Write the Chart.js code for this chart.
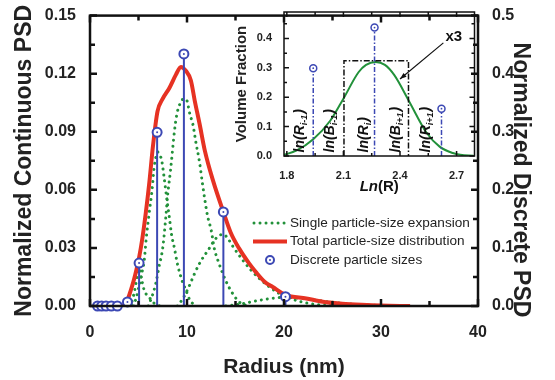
<!DOCTYPE html>
<html>
<head>
<meta charset="utf-8">
<script src="https://cdn.jsdelivr.net/npm/chart.js@4.4.0/dist/chart.umd.min.js"></script>
<style>
  html, body { margin: 0; padding: 0; background: #fff; }
  #wrap { position: relative; width: 555px; height: 380px; }
  #main { position: absolute; left: 0; top: 0; }
  #inset { position: absolute; left: 230px; top: 0; }
</style>
</head>
<body>
<div id="wrap">
  <canvas id="main" width="555" height="380"></canvas>
  <canvas id="inset" width="250" height="200"></canvas>
</div>
<script>
// main plot data
const xTicks = [0, 10, 20, 30, 40];
const leftTicks = [0, 0.03, 0.06, 0.09, 0.12, 0.15];
const rightTicks = [0, 0.1, 0.2, 0.3, 0.4, 0.5];

const discreteRadius = [0.78, 1.2, 1.65, 2.2, 2.82, 3.86, 5.06, 6.92, 9.68, 13.75, 20.15];
const discretePsd = [0, 0, 0, 0, 0, 0.007, 0.074, 0.299, 0.434, 0.162, 0.016];

const totalRadius = [3.4, 3.7, 3.86, 4.2, 4.5, 4.8, 5.06, 5.4, 5.75, 6.1, 6.5, 6.96, 7.47, 8.17, 8.86, 9.37, 9.88, 10.4, 10.8, 11.3, 11.85, 12.7, 13.75, 14.5, 15.4, 16.4, 17.1, 18.0, 18.84, 20.15, 22.3, 24, 26, 28, 30, 33];
const totalPsd = [0, 0.0015, 0.003, 0.008, 0.013, 0.019, 0.025, 0.035, 0.048, 0.063, 0.083, 0.1005, 0.1068, 0.1125, 0.1195, 0.1235, 0.1215, 0.1165, 0.106, 0.094, 0.08, 0.0645, 0.0486, 0.038, 0.0295, 0.022, 0.0175, 0.0125, 0.0098, 0.0058, 0.0039, 0.0022, 0.0012, 0.0006, 0.0002, 0];

// one expansion per discrete size (3.86 ... 20.15)
const expansionRadius = [
  [3.2, 3.5, 3.86, 4.2, 4.6],
  [4.0, 4.3, 4.6, 4.85, 5.06, 5.2, 5.4, 5.6, 6.1, 6.6, 7.2],
  [4.5, 4.75, 5.0, 5.3, 5.6, 5.8, 6.1, 6.4, 6.6, 6.8, 7.0, 7.2, 7.4, 7.65, 7.9, 8.2, 8.4, 8.7, 9.0, 9.5, 9.9, 10.3, 11],
  [6.0, 6.4, 6.8, 7.1, 7.5, 7.8, 8.0, 8.3, 8.5, 8.7, 8.95, 9.2, 9.5, 9.8, 10.0, 10.3, 10.6, 10.9, 11.3, 11.6, 12.1, 12.5, 12.8, 13.3, 14.0, 14.7, 15.4, 16.2],
  [9.0, 9.6, 10.2, 10.8, 11.4, 12.2, 12.7, 13.2, 13.75, 14.2, 14.7, 15.7, 16.6, 17.5, 18.5, 19.5, 20.6, 21.9, 23.5, 25.5],
  [14, 15.5, 17, 18.5, 20.15, 22, 24, 26, 28, 30, 33]
];
const expansionPsd = [
  [0, 0.001, 0.002, 0.001, 0],
  [0, 0.002, 0.008, 0.015, 0.021, 0.017, 0.012, 0.008, 0.0045, 0.0015, 0],
  [0, 0.004, 0.009, 0.016, 0.024, 0.035, 0.048, 0.06, 0.071, 0.077, 0.0795, 0.078, 0.075, 0.066, 0.056, 0.045, 0.037, 0.03, 0.022, 0.013, 0.008, 0.003, 0],
  [0, 0.005, 0.012, 0.02, 0.03, 0.045, 0.057, 0.07, 0.08, 0.09, 0.099, 0.1035, 0.1065, 0.107, 0.106, 0.099, 0.094, 0.085, 0.074, 0.063, 0.047, 0.039, 0.03, 0.022, 0.013, 0.0065, 0.002, 0],
  [0, 0.004, 0.01, 0.017, 0.023, 0.029, 0.033, 0.036, 0.037, 0.035, 0.031, 0.024, 0.0185, 0.014, 0.0098, 0.0065, 0.004, 0.002, 0.0007, 0],
  [0, 0.001, 0.0025, 0.0038, 0.0045, 0.0038, 0.0025, 0.0014, 0.0007, 0.0003, 0]
];

// inset data
const insetXTicks = [1.8, 2.1, 2.4, 2.7];
const insetYTicks = [0, 0.1, 0.2, 0.3, 0.4];
const lnR = [1.785, 1.85, 1.94, 2.03, 2.1, 2.18, 2.22, 2.27, 2.32, 2.37, 2.45, 2.54, 2.61, 2.68, 2.72, 2.79];
const volumeFraction = [0.004, 0.018, 0.057, 0.12, 0.195, 0.285, 0.31, 0.32, 0.31, 0.275, 0.184, 0.08, 0.032, 0.01, 0.004, 0.001];
const lnDiscrete = [1.94, 2.265, 2.62];
const fracDiscrete = [0.299, 0.437, 0.161];
const binEdges = [2.103, 2.445];
const binHeight = 0.324;
const binLabelLn = [1.87, 2.03, 2.21, 2.38, 2.54];
const binLabelMain = ['ln(R', 'ln(B', 'ln(R', 'ln(B', 'ln(R'];
const binLabelSub = ['i-1', 'i-1', 'i', 'i+1', 'i+1'];
const scaleNote = { text: 'x3', ln: 2.685, frac: 0.405 };
const arrowFrom = [2.63, 0.385];
const arrowTo = [2.4, 0.262];

const FONT = "'Liberation Sans', Arial, sans-serif";
const GREEN = '#22913a';
const RED = '#e63223';
const BLUE = '#3c48b4';
Chart.defaults.font.family = FONT;
Chart.defaults.color = '#222';

const minorOf = (scale) => {
    const vals = scale.ticks.map(t => t.value);
    const step = vals[1] - vals[0];
    const out = [];
    for (let v = vals[0] - step / 2; v <= scale.max + 1e-9; v += step) {
        if (v >= scale.min - 1e-9) out.push(v);
    }
    return out;
};

// box round the plot with inward tick marks on all sides
const frame = {
    id: 'frame',
    afterDatasetsDraw(chart, args, o) {
        const { ctx, chartArea: a, scales } = chart;
        const marks = (scale) => scale.ticks.map(t => [scale.getPixelForValue(t.value), o.major])
            .concat(minorOf(scale).map(v => [scale.getPixelForValue(v), o.minor]));
        ctx.save();
        ctx.strokeStyle = '#111';
        ctx.lineWidth = o.width;
        ctx.beginPath();
        marks(scales.x).forEach(([p, len]) => {
            ctx.moveTo(p, a.bottom); ctx.lineTo(p, a.bottom - len);
            ctx.moveTo(p, a.top); ctx.lineTo(p, a.top + len);
        });
        marks(scales.y).forEach(([p, len]) => {
            ctx.moveTo(a.left, p); ctx.lineTo(a.left + len, p);
            if (!scales.y2) { ctx.moveTo(a.right, p); ctx.lineTo(a.right - len, p); }
        });
        if (scales.y2) {
            marks(scales.y2).forEach(([p, len]) => { ctx.moveTo(a.right, p); ctx.lineTo(a.right - len, p); });
        }
        ctx.stroke();
        ctx.strokeRect(a.left, a.top, a.right - a.left, a.bottom - a.top);
        ctx.restore();
    }
};

// legend inside the plot and the right-hand axis title
const legendBox = {
    id: 'legendBox',
    afterDraw(chart) {
        const ctx = chart.ctx;
        const x0 = 253, x1 = 287, tx = 290;
        const rows = [223, 241.5, 260];
        ctx.save();
        ctx.lineCap = 'round';
        ctx.strokeStyle = GREEN; ctx.lineWidth = 3; ctx.setLineDash([0.01, 6]);
        ctx.beginPath(); ctx.moveTo(x0 + 1, rows[0]); ctx.lineTo(x1, rows[0]); ctx.stroke();
        ctx.setLineDash([]); ctx.lineCap = 'butt';
        ctx.strokeStyle = RED; ctx.lineWidth = 4;
        ctx.beginPath(); ctx.moveTo(x0, rows[1]); ctx.lineTo(x1, rows[1]); ctx.stroke();
        ctx.strokeStyle = BLUE; ctx.lineWidth = 2; ctx.fillStyle = '#fff';
        ctx.beginPath(); ctx.arc(270, rows[2], 4, 0, Math.PI * 2); ctx.fill(); ctx.stroke();
        ctx.fillStyle = BLUE;
        ctx.beginPath(); ctx.arc(270, rows[2], 1, 0, Math.PI * 2); ctx.fill();
        ctx.fillStyle = '#222'; ctx.font = '13.6px ' + FONT; ctx.textBaseline = 'middle';
        ctx.fillText('Single particle-size expansion', tx, rows[0]);
        ctx.fillText('Total particle-size distribution', tx, rows[1]);
        ctx.fillText('Discrete particle sizes', tx, rows[2]);
        // right axis title, a little below centre as in the original
        ctx.save();
        ctx.translate(520, 180);
        ctx.rotate(Math.PI / 2);
        ctx.textAlign = 'center';
        ctx.font = 'bold 23px ' + FONT;
        ctx.fillText('Normalized Discrete PSD', 0, 0);
        ctx.restore();
        ctx.restore();
    }
};

const toPoints = (xs, ys) => xs.map((x, i) => ({ x: x, y: ys[i] }));
const stemPoints = (xs, ys) => xs.flatMap((x, i) => [{ x: x, y: 0 }, { x: x, y: ys[i] }, { x: x, y: null }]);
const setTicks = (vals) => (s) => { s.ticks = vals.map(v => ({ value: v })); };
const bold = (size) => ({ family: FONT, size: size, weight: 'bold' });

const mainSets = [
    { data: toPoints(discreteRadius, discretePsd), yAxisID: 'y2', showLine: false, clip: false,
      pointRadius: 1, pointBackgroundColor: BLUE, pointBorderWidth: 0 },
    { data: toPoints(discreteRadius, discretePsd), yAxisID: 'y2', showLine: false, clip: false,
      pointRadius: 4.5, pointBorderWidth: 2, pointBorderColor: BLUE, pointBackgroundColor: '#fff' },
    { data: stemPoints(discreteRadius, discretePsd), yAxisID: 'y2', borderColor: BLUE, borderWidth: 2,
      pointRadius: 0, spanGaps: false, tension: 0 },
    { data: toPoints(totalRadius, totalPsd), yAxisID: 'y', borderColor: RED, borderWidth: 4,
      pointRadius: 0, cubicInterpolationMode: 'monotone' }
].concat(expansionRadius.map((rs, i) => ({
    data: toPoints(rs, expansionPsd[i]), yAxisID: 'y', borderColor: GREEN, borderWidth: 3,
    borderDash: [0.01, 6], borderCapStyle: 'round', pointRadius: 0, cubicInterpolationMode: 'monotone'
})));

new Chart(document.getElementById('main'), {
    type: 'line',
    data: { datasets: mainSets },
    options: {
        responsive: false,
        animation: false,
        layout: { padding: { top: 12 } },
        plugins: {
            legend: { display: false },
            tooltip: { enabled: false },
            frame: { width: 2.5, major: 7, minor: 5 }
        },
        scales: {
            x: {
                type: 'linear', min: 0, max: 40,
                afterBuildTicks: setTicks(xTicks),
                afterFit: (s) => { s.height = 74; },
                grid: { display: false }, border: { display: false },
                ticks: { font: bold(16), padding: 9, maxRotation: 0 },
                title: { display: true, text: 'Radius (nm)', font: bold(21), padding: { top: 6, bottom: 0 } }
            },
            y: {
                position: 'left', min: 0, max: 0.15,
                afterBuildTicks: setTicks(leftTicks),
                afterFit: (s) => { s.width = 90; },
                grid: { display: false }, border: { display: false },
                ticks: { font: bold(16), padding: 6, callback: (v) => v.toFixed(2) },
                title: { display: true, text: 'Normalized Continuous PSD', font: bold(23), padding: { top: 11, bottom: 0 } }
            },
            y2: {
                position: 'right', min: 0, max: 0.5,
                afterBuildTicks: setTicks(rightTicks),
                afterFit: (s) => { s.width = 77; },
                grid: { display: false }, border: { display: false },
                ticks: { font: bold(16), padding: 6, callback: (v) => v.toFixed(1) }
            }
        }
    },
    plugins: [frame, legendBox]
});

// labels, arrow and axis title of the inset
const insetNotes = {
    id: 'insetNotes',
    afterDraw(chart) {
        const { ctx, chartArea: a, scales } = chart;
        const px = (v) => scales.x.getPixelForValue(v);
        const py = (v) => scales.y.getPixelForValue(v);
        ctx.save();
        ctx.fillStyle = '#111';
        ctx.textBaseline = 'middle';
        binLabelLn.forEach((ln, i) => {
            ctx.save();
            ctx.translate(px(ln), py(0.012));
            ctx.rotate(-Math.PI / 2);
            ctx.font = 'italic bold 14px ' + FONT;
            ctx.fillText(binLabelMain[i], 0, 0);
            const w = ctx.measureText(binLabelMain[i]).width;
            ctx.font = 'italic bold 9px ' + FONT;
            ctx.fillText(binLabelSub[i], w, 4);
            const w2 = ctx.measureText(binLabelSub[i]).width;
            ctx.font = 'italic bold 14px ' + FONT;
            ctx.fillText(')', w + w2 + 1, 0);
            ctx.restore();
        });
        ctx.font = 'bold 15px ' + FONT;
        ctx.textAlign = 'center';
        ctx.fillText(scaleNote.text, px(scaleNote.ln), py(scaleNote.frac));
        // arrow
        const x0 = px(arrowFrom[0]), y0 = py(arrowFrom[1]);
        const x1 = px(arrowTo[0]), y1 = py(arrowTo[1]);
        const ang = Math.atan2(y1 - y0, x1 - x0);
        ctx.strokeStyle = '#111'; ctx.lineWidth = 1.2;
        ctx.beginPath(); ctx.moveTo(x0, y0); ctx.lineTo(x1, y1); ctx.stroke();
        ctx.beginPath();
        ctx.moveTo(x1, y1);
        ctx.lineTo(x1 - 7 * Math.cos(ang - 0.35), y1 - 7 * Math.sin(ang - 0.35));
        ctx.lineTo(x1 - 7 * Math.cos(ang + 0.35), y1 - 7 * Math.sin(ang + 0.35));
        ctx.closePath(); ctx.fill();
        // x title: italic Ln + (R)
        ctx.textAlign = 'left';
        ctx.font = 'italic bold 15px ' + FONT;
        const wl = ctx.measureText('Ln').width;
        ctx.font = 'bold 15px ' + FONT;
        const wr = ctx.measureText('(R)').width;
        const sx = (a.left + a.right) / 2 - (wl + wr) / 2;
        ctx.font = 'italic bold 15px ' + FONT;
        ctx.fillText('Ln', sx, 187);
        ctx.font = 'bold 15px ' + FONT;
        ctx.fillText('(R)', sx + wl, 187);
        ctx.restore();
    }
};

const insetSets = [
    { data: toPoints(lnDiscrete, fracDiscrete), showLine: false, clip: false,
      pointRadius: 0.9, pointBackgroundColor: BLUE, pointBorderWidth: 0 },
    { data: toPoints(lnDiscrete, fracDiscrete), showLine: false, clip: false,
      pointRadius: 3.5, pointBorderWidth: 1.5, pointBorderColor: BLUE, pointBackgroundColor: '#fff' },
    { data: stemPoints(lnDiscrete, fracDiscrete), borderColor: BLUE, borderWidth: 1.5,
      borderDash: [5, 2, 1.5, 2], pointRadius: 0, spanGaps: false, tension: 0 },
    { data: [{ x: binEdges[0], y: 0 }, { x: binEdges[0], y: binHeight }, { x: binEdges[1], y: binHeight }, { x: binEdges[1], y: 0 }],
      borderColor: '#111', borderWidth: 1.5, borderDash: [6, 2, 1.5, 2], pointRadius: 0, tension: 0 },
    { data: toPoints(lnR, volumeFraction), borderColor: GREEN, borderWidth: 2,
      pointRadius: 0, cubicInterpolationMode: 'monotone' }
];

new Chart(document.getElementById('inset'), {
    type: 'line',
    data: { datasets: insetSets },
    options: {
        responsive: false,
        animation: false,
        layout: { padding: { top: 12, right: 2 } },
        plugins: {
            legend: { display: false },
            tooltip: { enabled: false },
            frame: { width: 1.5, major: 5, minor: 3 }
        },
        scales: {
            x: {
                type: 'linear', min: 1.785, max: 2.795,
                afterBuildTicks: setTicks(insetXTicks),
                afterFit: (s) => { s.height = 44; },
                grid: { display: false }, border: { display: false },
                ticks: { font: bold(11), padding: 5, maxRotation: 0, callback: (v) => v.toFixed(1) }
            },
            y: {
                min: 0, max: 0.49,
                afterBuildTicks: setTicks(insetYTicks),
                afterFit: (s) => { s.width = 54; },
                grid: { display: false }, border: { display: false },
                ticks: { font: bold(11), padding: 4, callback: (v) => v.toFixed(1) },
                title: { display: true, text: 'Volume Fraction', font: bold(15), padding: { top: 3, bottom: 0 } }
            }
        }
    },
    plugins: [frame, insetNotes]
});
</script>
</body>
</html>
